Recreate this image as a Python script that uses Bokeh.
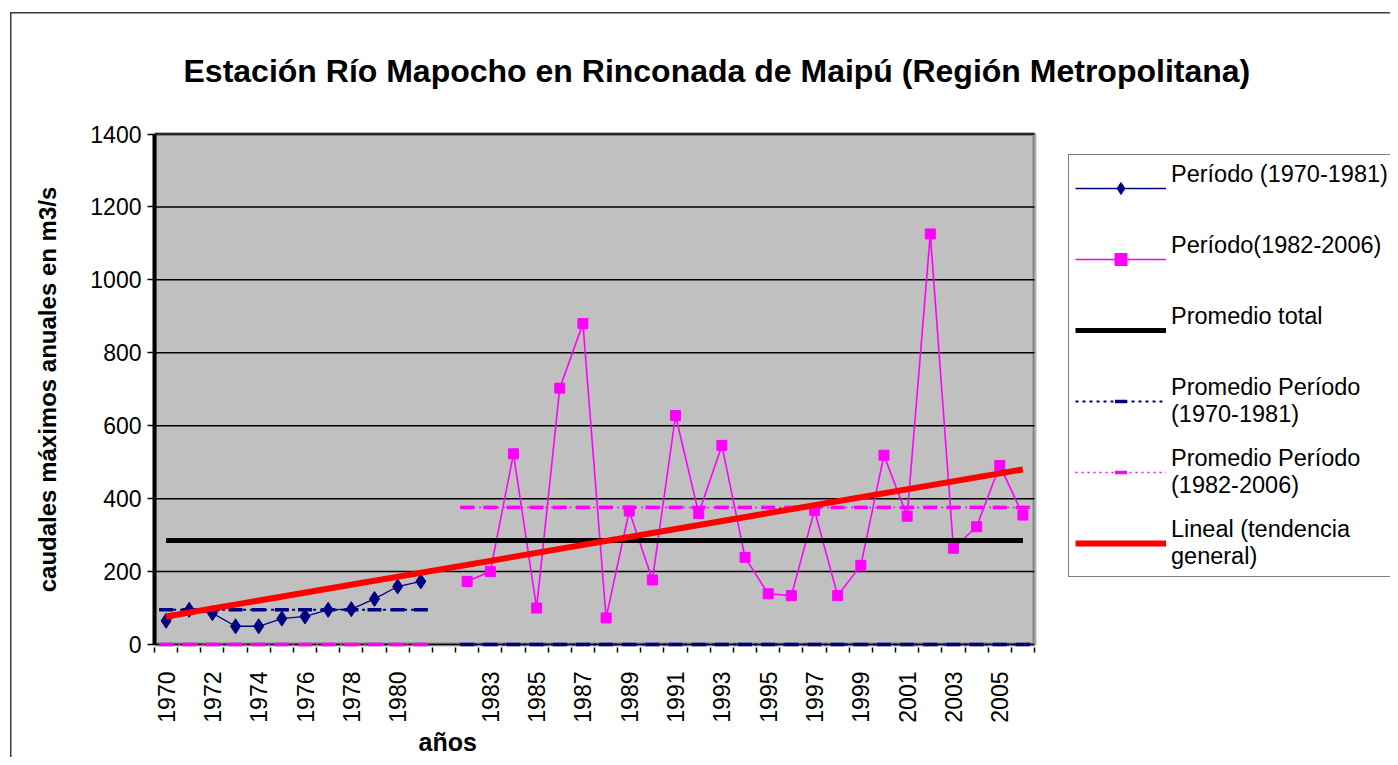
import math
from bokeh.plotting import figure
from bokeh.models import FixedTicker, Legend, LegendItem, Range1d, Title, BoxAnnotation
from bokeh.embed import file_html
from bokeh.resources import INLINE

# ---------------- data ----------------
categories = ["1970", "1971", "1972", "1973", "1974", "1975", "1976", "1977", "1978", "1979",
              "1980", "1981", "",
              "1982", "1983", "1984", "1985", "1986", "1987", "1988", "1989", "1990", "1991",
              "1992", "1993", "1994", "1995", "1996", "1997", "1998", "1999", "2000", "2001",
              "2002", "2003", "2004", "2005", "2006"]

periodo1_years = ["1970", "1971", "1972", "1973", "1974", "1975", "1976", "1977", "1978",
                  "1979", "1980", "1981"]
periodo1_values = [65, 95, 86, 50, 50, 71, 77, 95, 97, 125, 159, 173]

periodo2_years = ["1982", "1983", "1984", "1985", "1986", "1987", "1988", "1989", "1990",
                  "1991", "1992", "1993", "1994", "1995", "1996", "1997", "1998", "1999",
                  "2000", "2001", "2002", "2003", "2004", "2005", "2006"]
periodo2_values = [173, 200, 523, 100, 703, 880, 73, 366, 177, 628, 359, 546, 239, 139, 134,
                   368, 134, 217, 519, 352, 1126, 264, 323, 491, 355]

promedio_total = 285
promedio_periodo1 = 95
promedio_periodo2 = 376
tendencia_inicio = 77    # value of linear trend at 1970
tendencia_fin = 480      # value of linear trend at 2006

y_ticks = [0, 200, 400, 600, 800, 1000, 1200, 1400]

# ---------------- positions from category list ----------------
x_all = [categories.index(c) for c in categories if c != ""]
x1 = [categories.index(y) for y in periodo1_years]
x2 = [categories.index(y) for y in periodo2_years]
gap = categories.index("")
nan = float("nan")

avg1_x = x1 + [gap] + x2
avg1_y = [promedio_periodo1] * len(x1) + [nan] + [0] * len(x2)
avg2_x = x1 + [gap] + x2
avg2_y = [0] * len(x1) + [nan] + [promedio_periodo2] * len(x2)
total_x = x_all
total_y = [promedio_total] * len(x_all)
trend_x = [x_all[0], x_all[-1]]
trend_y = [tendencia_inicio, tendencia_fin]

x_lo = -0.5
x_hi = len(categories) - 0.5
y_lo = y_ticks[0]
y_hi = y_ticks[-1]

NAVY = "#000080"
MAG = "#FF00FF"
FONT = "Liberation Sans"

# ---------------- layout (pixels) ----------------
PLOT_W = 880          # width of the grey plot area
FRAME_W = 1236        # frame reaches the right edge so the legend can live inside it
PLOT_H = 510.5        # height of grey plot area (0 .. 1400)
TOP_PAD = 2.5         # px between frame top and the 1400 line
BOT_PAD = 3           # px between the 0 line and frame bottom
FRAME_H = int(PLOT_H + TOP_PAD + BOT_PAD)
px_per_unit_x = PLOT_W / (x_hi - x_lo)
px_per_unit_y = PLOT_H / (y_hi - y_lo)

p = figure(frame_width=FRAME_W, frame_height=FRAME_H, output_backend="svg",
           toolbar_location=None,
           x_range=Range1d(x_lo, x_lo + FRAME_W / px_per_unit_x),
           y_range=Range1d(y_lo - BOT_PAD / px_per_unit_y, y_hi + TOP_PAD / px_per_unit_y),
           min_border_left=154, min_border_right=0, min_border_top=131, min_border_bottom=110)

p.background_fill_color = "white"
p.border_fill_alpha = 0
p.outline_line_color = None
p.xgrid.grid_line_color = None
p.ygrid.grid_line_color = None
# thin outer chart-area border (top and left edges, as in the reference)
p.styles = {
    "background-color": "white",
    "background-image": "linear-gradient(#3c3c3c, #3c3c3c), linear-gradient(#3c3c3c, #3c3c3c)",
    "background-size": "1.5px 100%, 100% 1.5px",
    "background-position": "9.5px 11.5px, 9.5px 11.5px",
    "background-repeat": "no-repeat",
}

# grey plot area with thick black border
p.add_layout(BoxAnnotation(left=x_lo, right=x_hi, bottom=y_lo, top=y_hi,
                           fill_color="#C0C0C0", fill_alpha=1,
                           line_color="black", line_width=4, level="underlay"))

# horizontal gridlines
p.segment(x0=[x_lo] * len(y_ticks), x1=[x_hi] * len(y_ticks), y0=y_ticks, y1=y_ticks,
          line_color="black", line_width=1.5)

# title
p.title.text = "Estación Río Mapocho en Rinconada de Maipú (Región Metropolitana)"
p.title.align = "left"
p.title.offset = 29
p.title.text_font = FONT
p.title.text_font_size = "32px"
p.title.text_font_style = "bold"
p.title.text_color = "black"
p.title.standoff = 85
p.title.background_fill_alpha = 0

# y axis
p.yaxis.bounds = (y_lo, y_hi)
p.yaxis.ticker = FixedTicker(ticks=y_ticks)
p.yaxis.axis_line_width = 4
p.yaxis.major_tick_out = 7
p.yaxis.major_tick_in = 0
p.yaxis.major_tick_line_width = 1.5
p.yaxis.minor_tick_line_color = None
p.yaxis.major_label_text_font = FONT
p.yaxis.major_label_text_font_size = "23px"
p.yaxis.major_label_text_color = "black"
p.yaxis.major_label_standoff = 6
p.yaxis.axis_label = "caudales máximos anuales en m3/s"
p.yaxis.axis_label_text_font = FONT
p.yaxis.axis_label_text_font_size = "24px"
p.yaxis.axis_label_text_font_style = "bold"
p.yaxis.axis_label_text_color = "black"
p.yaxis.axis_label_standoff = 26

# x axis (the thick bottom border is the grey area's own outline)
label_pos = list(range(0, len(categories), 2))
boundaries = [i - 0.5 for i in range(len(categories) + 1)]
p.xaxis.bounds = (x_lo, x_hi)
p.xaxis.ticker = FixedTicker(ticks=label_pos, minor_ticks=boundaries)
p.xaxis.major_label_overrides = {i: categories[i] for i in label_pos}
p.xaxis.axis_line_color = None
p.xaxis.major_tick_line_color = None
p.xaxis.major_tick_out = 0
p.xaxis.major_tick_in = 0
p.xaxis.minor_tick_out = 5
p.xaxis.minor_tick_in = 0
p.xaxis.minor_tick_line_color = "black"
p.xaxis.minor_tick_line_width = 1.5
p.xaxis.major_label_orientation = math.pi / 2
p.xaxis.major_label_text_font = FONT
p.xaxis.major_label_text_font_size = "23px"
p.xaxis.major_label_text_color = "black"
p.xaxis.major_label_standoff = 19

# x axis title, left of centre as in the reference
p.add_layout(Title(text="años", align="left", offset=264, standoff=0,
                   text_font=FONT, text_font_size="25px", text_font_style="bold",
                   text_color="black", background_fill_alpha=0), "below")

# ---------------- series ----------------
l1 = p.line(x1, periodo1_values, line_color=NAVY, line_width=1.3)
m1 = p.scatter(x1, periodo1_values, marker="diamond", size=15,
               fill_color=NAVY, line_color=NAVY)

l2 = p.line(x2, periodo2_values, line_color=MAG, line_width=1.6)
m2 = p.scatter(x2, periodo2_values, marker="square", size=10, fill_color=MAG, line_color=MAG)

lt = p.line(total_x, total_y, line_color="black", line_width=5)

la1 = p.line(avg1_x, avg1_y, line_color=NAVY, line_width=2, line_dash="3 4")
ma1 = p.scatter(avg1_x, avg1_y, marker="dash", size=14, line_color=NAVY, line_width=3.5)

la2 = p.line(avg2_x, avg2_y, line_color=MAG, line_width=1.5, line_dash="2 4")
ma2 = p.scatter(avg2_x, avg2_y, marker="dash", size=14, line_color=MAG, line_width=3.5)

lr = p.line(trend_x, trend_y, line_color="#FF0000", line_width=6)

legend = Legend(items=[
    LegendItem(label="Período (1970-1981)\n ", renderers=[l1, m1]),
    LegendItem(label="Período(1982-2006)\n ", renderers=[l2, m2]),
    LegendItem(label="Promedio total\n ", renderers=[lt]),
    LegendItem(label="Promedio Período\n(1970-1981)", renderers=[la1, ma1]),
    LegendItem(label="Promedio Período\n(1982-2006)", renderers=[la2, ma2]),
    LegendItem(label="Lineal (tendencia\ngeneral)", renderers=[lr]),
], location=(914, 70), margin=0, padding=6, spacing=17,
    glyph_width=91, glyph_height=30, label_standoff=5,
    label_text_font=FONT, label_text_font_size="23.5px", label_text_color="black",
    label_text_line_height=1.2,
    border_line_color="black", border_line_width=1.5,
    background_fill_color="white", background_fill_alpha=1)
p.add_layout(legend, "center")

open("out.html", "w").write(file_html(p, INLINE))
